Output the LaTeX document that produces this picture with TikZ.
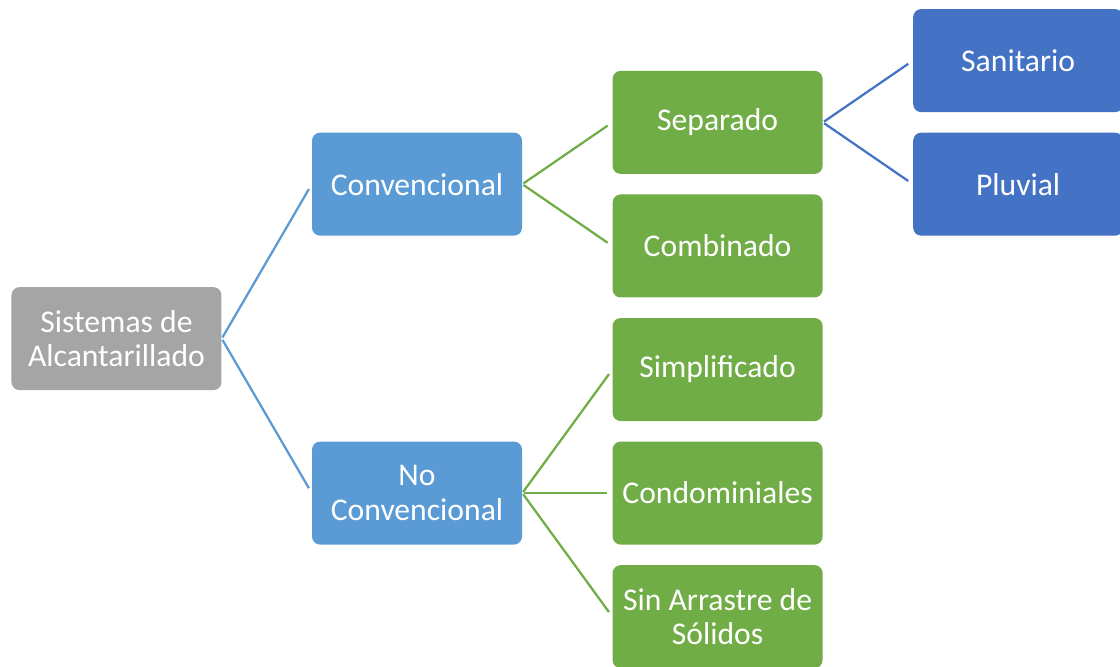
\documentclass[tikz,border=0pt]{standalone}
\usepackage{fontspec}
\setmainfont{Carlito}
\usetikzlibrary{positioning,calc}
\definecolor{grisraiz}{HTML}{A5A5A5}
\definecolor{azulclaro}{HTML}{5B9BD5}
\definecolor{verde}{HTML}{70AD47}
\definecolor{azul}{HTML}{4472C4}

\begin{document}
\begin{tikzpicture}[
      caja/.style={
         rectangle,
         rounded corners=0.2cm,
         draw=none,
         text=white,
         align=center,
         inner sep=2pt,
         minimum width=5.25cm,
         minimum height=2.575cm,
         font=\fontsize{22.5}{24.5}\selectfont},
      raiz/.style={caja,fill=grisraiz},
      nivela/.style={caja,fill=azulclaro},
      nivelb/.style={caja,fill=verde},
      nivelc/.style={caja,fill=azul},
      rama/.style={line width=1.6pt,shorten <=1pt,shorten >=4pt},
      node distance=0.5cm and 2.25cm
      ]
      \useasboundingbox (0,0) rectangle (28,-16.65);
      \node[nivelb] (sep) at (17.94,-3.06) {Separado};
      \node[nivelb,below=of sep] (comb) {Combinado};
      \node[nivelb,below=of comb] (simp) {Simplificado};
      \node[nivelb,below=of simp] (cond) {Condominiales};
      \node[nivelb,below=of cond] (sinarr) {Sin Arrastre de\\S\'olidos};
      \node[nivela,left=of {$(sep.west)!0.5!(comb.west)$}] (conv) {Convencional};
      \node[nivela,left=of cond] (noconv) {No\\Convencional};
      \node[raiz,left=of {$(conv.west)!0.5!(noconv.west)$}] (sist) {Sistemas de\\Alcantarillado};
      \node[nivelc,above right=0.25cm and 2.25cm of sep.east] (san) {Sanitario};
      \node[nivelc,below right=0.25cm and 2.25cm of sep.east] (pluv) {Pluvial};

    \foreach \i/\j/\c in {% padre/hijo/color
      sist/conv/azulclaro,
      sist/noconv/azulclaro,
      conv/sep/verde,
      conv/comb/verde,
      noconv/simp/verde,
      noconv/cond/verde,
      noconv/sinarr/verde,
      sep/san/azul,
      sep/pluv/azul}
       \draw [rama,\c] (\i.east) -- (\j.west);

    \end{tikzpicture}
\end{document}
